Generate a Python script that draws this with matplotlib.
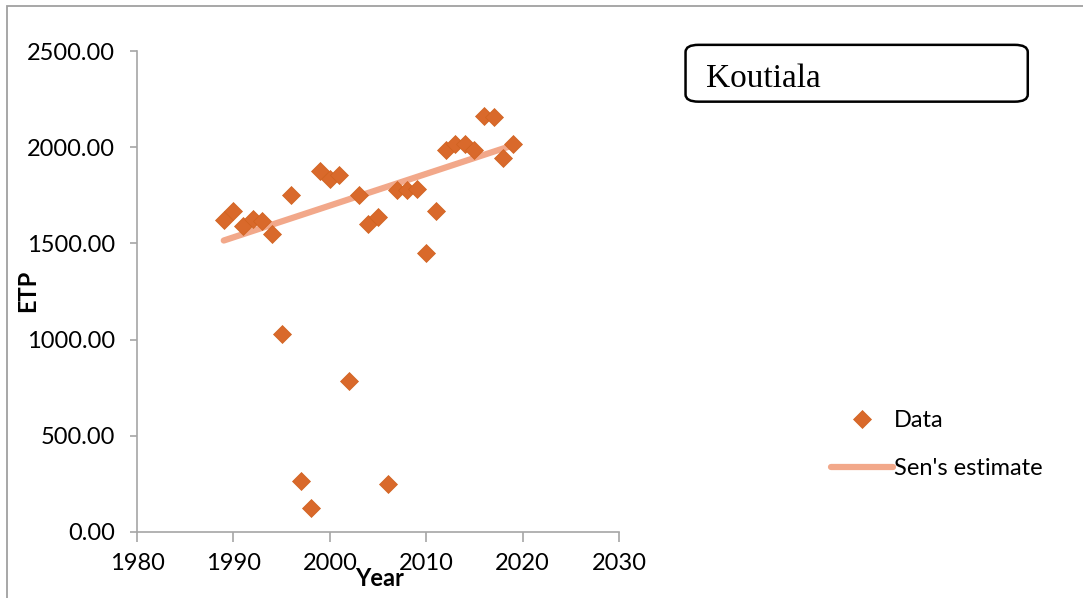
import numpy as np
import matplotlib.pyplot as plt
from matplotlib.patches import FancyBboxPatch, Rectangle

# annual ETP series for Koutiala
years = np.arange(1989, 2020)
etp = [1622, 1668, 1590, 1627, 1616, 1549, 1029, 1751, 265, 125,
       1876, 1835, 1855, 785, 1751, 1601, 1637, 249, 1777, 1777,
       1783, 1450, 1668, 1985, 2017, 2017, 1985, 2162, 2157, 1944,
       2017]

# Sen's slope trend line end points
sen_years = [1989, 2019]
sen_vals = [1515, 2010]

station = "Koutiala"

W, H = 1083, 598
fig = plt.figure(figsize=(W / 100, H / 100), dpi=100)
ax = fig.add_axes([0.1265, 0.1104, 0.4451, 0.8043])

font = ["Lato", "DejaVu Sans"]
fs = 17
axis_grey = "#a6a6a6"

sen, = ax.plot(sen_years, sen_vals, color="#f2a88a", lw=4.5, solid_capstyle="round",
               label="Sen's estimate", zorder=2)
pts, = ax.plot(years, etp, ls="none", marker="D", ms=9.5, color="#d9692b",
               markeredgecolor="#d0621f", markeredgewidth=0.5, label="Data", zorder=3)

ax.set_xlim(1980, 2030)
ax.set_ylim(0, 2500)
ax.set_xticks(np.arange(1980, 2031, 10))
ax.set_yticks(np.arange(0, 2501, 500))
ax.set_yticklabels([f"{v:.2f}" for v in np.arange(0, 2501, 500)])

for s in ["top", "right"]:
    ax.spines[s].set_visible(False)
for s in ["left", "bottom"]:
    ax.spines[s].set_color(axis_grey)
    ax.spines[s].set_linewidth(1.2)
ax.tick_params(axis="y", length=5, width=1.2, color=axis_grey, pad=11)
ax.tick_params(axis="x", length=7, width=1.2, color=axis_grey, pad=8)
for lab in ax.get_xticklabels() + ax.get_yticklabels():
    lab.set_fontfamily(font)
    lab.set_fontsize(fs)

# axis titles placed by hand: "Year" overlaps the tick row a bit
fig.text(380 / W, 1 - 579 / H, "Year", fontsize=fs, fontweight="bold", family=font,
         ha="center", va="center")
fig.text(28 / W, 1 - 291 / H, "ETP", fontsize=fs, fontweight="bold", family=font,
         ha="center", va="center", rotation=90)

leg = fig.legend([pts, sen], ["Data", "Sen's estimate"], loc="upper left",
                 bbox_to_anchor=(0.748, 0.35), frameon=False,
                 prop={"family": font, "size": fs}, handlelength=2.6,
                 handletextpad=0.05, labelspacing=1.15)

# station name box
box = FancyBboxPatch((0.633, 0.83), 0.316, 0.095, transform=fig.transFigure,
                     boxstyle="round,pad=0,rounding_size=0.012",
                     facecolor="white", edgecolor="black", lw=1.8)
fig.patches.append(box)
fig.text(0.652, 0.868, station, family="Liberation Serif", fontsize=24,
         va="center", ha="left")

# chart area border
fig.patches.append(Rectangle((0.0065, -0.05), 1.05, 1.04, transform=fig.transFigure,
                             fill=False, edgecolor="#a0a0a0", lw=1.3))

fig.savefig("out.png", dpi=100)
